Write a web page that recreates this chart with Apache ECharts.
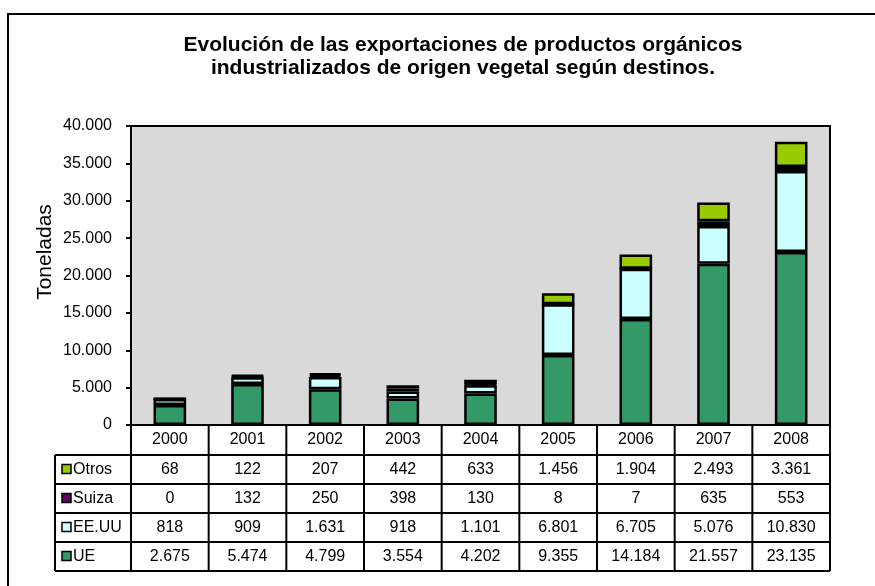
<!DOCTYPE html>
<html>
<head>
<meta charset="utf-8">
<script src="https://cdn.jsdelivr.net/npm/echarts@6/dist/echarts.min.js"></script>
<style>
  html, body { margin: 0; padding: 0; background: #fff; }
  #chart { width: 875px; height: 586px; }
</style>
</head>
<body>
<div id="chart"></div>
<script>
var years = ['2000', '2001', '2002', '2003', '2004', '2005', '2006', '2007', '2008'];
var ue = [2675, 5474, 4799, 3554, 4202, 9355, 14184, 21557, 23135];
var eeuu = [818, 909, 1631, 918, 1101, 6801, 6705, 5076, 10830];
var suiza = [0, 132, 250, 398, 130, 8, 7, 635, 553];
var otros = [68, 122, 207, 442, 633, 1456, 1904, 2493, 3361];

var seriesNames = ['UE', 'EE.UU', 'Suiza', 'Otros'];
var seriesData = [ue, eeuu, suiza, otros];
var seriesColors = ['#339966', '#ccffff', '#660066', '#99cc00'];

var font = 'Arial, "Liberation Sans", sans-serif';

function fmt(v) {
    return String(v).replace(/\B(?=(\d{3})+(?!\d))/g, '.');
}

var myChart = echarts.init(document.getElementById('chart'));

// table geometry (follows the grid)
var gLeft = 131, gRight = 830, gBottom = 425;
var colW = (gRight - gLeft) / years.length;
var rowH = 29;
var labelLeft = 55;
var headerBottom = gBottom + 30;

var graphics = [];

// outer frame
graphics.push({
    type: 'rect',
    shape: { x: 8, y: 14, width: 880, height: 600 },
    style: { fill: 'none', stroke: '#000', lineWidth: 2 },
    z: 100
});

// title
graphics.push({
    type: 'text',
    x: 463, y: 34,
    style: {
        text: 'Evolución de las exportaciones de productos orgánicos\nindustrializados de origen vegetal según destinos.',
        font: 'bold 21px ' + font,
        fill: '#000',
        textAlign: 'center',
        lineHeight: 23
    }
});

// y axis title
graphics.push({
    type: 'text',
    x: 45, y: 252,
    rotation: Math.PI / 2,
    style: {
        text: 'Toneladas',
        font: '21px ' + font,
        fill: '#000',
        textAlign: 'center',
        textVerticalAlign: 'middle'
    }
});

var line = function (x1, y1, x2, y2) {
    graphics.push({
        type: 'line',
        shape: { x1: x1, y1: y1, x2: x2, y2: y2 },
        style: { stroke: '#000', lineWidth: 2 },
        z: 50
    });
};

// header row vertical lines
for (var i = 0; i <= years.length; i++) {
    line(gLeft + i * colW, gBottom, gLeft + i * colW, headerBottom + rowH * 4);
}
// horizontal lines
for (var r = 0; r <= 4; r++) {
    line(labelLeft, headerBottom + r * rowH, gRight, headerBottom + r * rowH);
}
line(labelLeft, headerBottom, labelLeft, headerBottom + rowH * 4);

// table rows: Otros, Suiza, EE.UU, UE
for (var r = 0; r < 4; r++) {
    var s = 3 - r;
    var cy = headerBottom + r * rowH + rowH / 2;
    graphics.push({
        type: 'rect',
        shape: { x: 62, y: cy - 5, width: 9, height: 9 },
        style: { fill: seriesColors[s], stroke: '#000', lineWidth: 1.5 },
        z: 60
    });
    graphics.push({
        type: 'text',
        x: 73, y: cy,
        style: {
            text: seriesNames[s], font: '16px ' + font, fill: '#000',
            textVerticalAlign: 'middle'
        },
        z: 60
    });
    for (var c = 0; c < years.length; c++) {
        graphics.push({
            type: 'text',
            x: gLeft + c * colW + colW / 2, y: cy,
            style: {
                text: fmt(seriesData[s][c]), font: '16px ' + font, fill: '#000',
                textAlign: 'center', textVerticalAlign: 'middle'
            },
            z: 60
        });
    }
}

var series = seriesNames.map(function (name, i) {
    return {
        name: name,
        type: 'bar',
        stack: 'total',
        barWidth: '42%',
        data: seriesData[i],
        itemStyle: {
            color: seriesColors[i],
            borderColor: '#000',
            borderWidth: 2.5
        }
    };
});

option = {
    backgroundColor: '#fff',
    animation: false,
    grid: {
        left: gLeft,
        right: 875 - gRight,
        top: 126,
        bottom: 586 - gBottom,
        show: true,
        backgroundColor: '#d9d9d9',
        borderColor: '#000',
        borderWidth: 2
    },
    xAxis: {
        type: 'category',
        data: years,
        axisLine: { lineStyle: { color: '#000', width: 2 } },
        axisTick: { show: false },
        axisLabel: {
            margin: 7,
            fontFamily: font,
            fontSize: 16,
            color: '#000'
        }
    },
    yAxis: {
        type: 'value',
        min: 0,
        max: 40000,
        interval: 5000,
        splitLine: { show: false },
        axisLine: { show: true, lineStyle: { color: '#000', width: 2 } },
        axisTick: { show: true, length: 5, lineStyle: { color: '#000', width: 2 } },
        axisLabel: {
            margin: 19,
            fontFamily: font,
            fontSize: 16,
            color: '#000',
            formatter: function (v) { return fmt(v); }
        }
    },
    series: series,
    graphic: graphics
};

myChart.setOption(option);
</script>
</body>
</html>
